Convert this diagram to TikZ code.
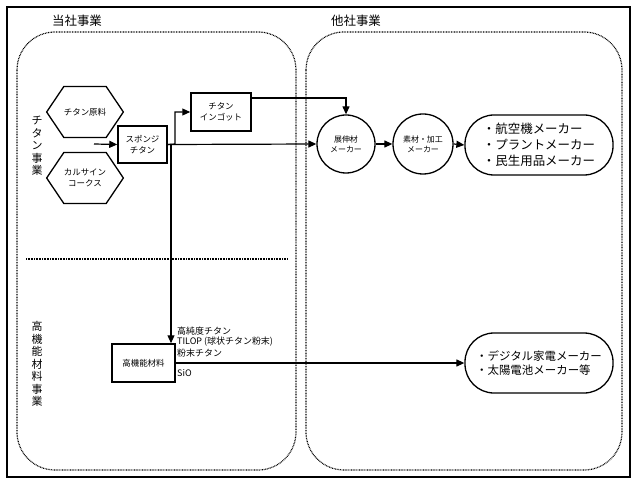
\documentclass[tikz,border=0pt]{standalone}
\usepackage{fontspec}
\setmainfont{Noto Sans CJK JP}
\usetikzlibrary{arrows.meta,shapes.symbols,shapes.geometric,calc}
\begin{document}
\begin{tikzpicture}[x=1bp,y=-1bp,
  arr/.style={line width=1.2bp,-{Triangle[length=8bp,width=7bp]}},
  plain/.style={line width=1.2bp},
  hexa/.style={draw,line width=1.3bp,shape=signal,signal to=west and east,signal pointer angle=112,minimum width=69bp,minimum height=51bp,inner sep=0pt,align=center,font=\fontsize{8.5}{11}\selectfont},
  boxn/.style={draw,line width=1.5bp,rectangle,inner sep=0pt,align=center,font=\fontsize{8.5}{11}\selectfont},
  circn/.style={draw,line width=1.3bp,circle,inner sep=0pt,align=center,font=\fontsize{8}{10}\selectfont},
  pill/.style={draw,line width=1.3bp,rounded corners=29bp,inner sep=0pt,minimum width=148bp,align=left},
  zone/.style={line width=1.2bp,dash pattern=on 0.8bp off 0.8bp,rounded corners=38bp},
  vtext/.style={align=center,font=\fontsize{11}{12.5}\selectfont},
  lbl/.style={anchor=west,inner sep=0pt,font=\fontsize{9}{11}\selectfont}]
\useasboundingbox (0,0) rectangle (637,485);
% outer frame
\draw[line width=2bp] (7,7) rectangle (630,477);
% zones
\draw[zone] (17,32) rectangle (296,470);
\draw[zone] (306,32) rectangle (622,470);
\draw[line width=1.2bp,dash pattern=on 0.8bp off 0.8bp] (26,259) -- (287,259);
% titles
\node[font=\fontsize{12.5}{14}\selectfont] (t1) at (77,21) {当社事業};
\node[font=\fontsize{12.5}{14}\selectfont] (t2) at (356,21) {他社事業};
\node[vtext] (v1) at (37,146) {チ\\タ\\ン\\事\\業};
\node[vtext] (v2) at (37,364) {高\\機\\能\\材\\料\\事\\業};
% nodes
\node[hexa] (h1) at (85,112) {チタン原料};
\node[hexa] (h2) at (85,178) {カルサイン\\コークス};
\node[boxn,minimum width=49bp,minimum height=37bp] (sp) at (142.5,144.5) {スポンジ\\チタン};
\node[boxn,minimum width=60bp,minimum height=38bp] (ig) at (221,112) {チタン\\インゴット};
\node[circn,minimum size=58bp] (c1) at (346,144) {展伸材\\メーカー};
\node[circn,minimum size=60bp] (c2) at (423,144) {素材・加工\\メーカー};
\node[pill,minimum height=60bp,font=\fontsize{12.5}{16}\selectfont] (r1) at (539,145) {・航空機メーカー\\・プラントメーカー\\・民生用品メーカー};
\node[boxn,minimum width=63bp,minimum height=38bp] (kb) at (143.5,363) {高機能材料};
\node[pill,minimum height=60bp,font=\fontsize{11.5}{14}\selectfont] (r2) at (539,363) {・デジタル家電メーカー\\・太陽電池メーカー等};
% labels
\node[lbl] (l1) at (177,331) {高純度チタン};
\node[lbl] (l2) at (177,342) {TILOP (球状チタン粉末)};
\node[lbl] (l3) at (177,353) {粉末チタン};
\node[lbl] (l4) at (177,373) {SiO};
% connectors
\coordinate (s0) at (94,144);
\coordinate (j1) at (175,144);
\coordinate (j2) at (171,144);
\draw[arr] (s0) -- (sp.west);
\draw[arr] (sp.east) -- (j1) |- (ig.west);
\draw[arr] (sp.east) -- (c1.west);
\draw[arr] (j2) -- (j2 |- kb.north);
\draw[arr] (ig.east |- 0,98) -| (c1.north);
\draw[arr] (c1.east) -- (c2.west);
\draw[arr] (c2.east) -- (r1.west);
\draw[arr] (kb.east) -- (r2.west);
\end{tikzpicture}
\end{document}
